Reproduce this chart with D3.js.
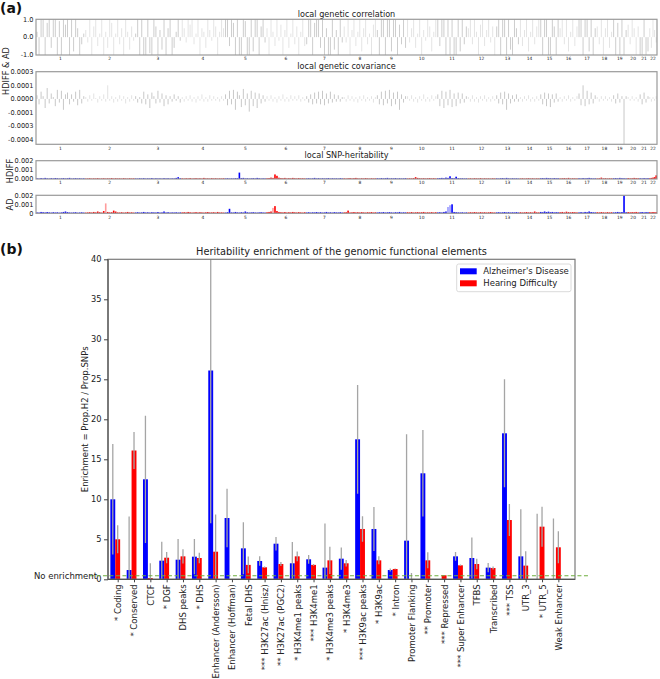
<!DOCTYPE html>
<html><head><meta charset="utf-8">
<script src="https://cdn.jsdelivr.net/npm/d3@7"></script>
<style>body{margin:0;background:#fff} svg{display:block;font-family:"DejaVu Sans",sans-serif}</style>
</head><body><svg id="c" width="660" height="679"></svg>
<script>
// ---------------- Panel (a) data ----------------
const chromLabels = ["1","2","3","4","5","6","7","8","9","10","11","12","13","14","15","16","17","18","19","20","21","22"];
const chromSizes = [134,137,128,119,114,109,103,91,83,83,84,78,65,56,53,52,50,45,40,33,27,22];
// local genetic correlation, per chromosome
const corrValues = [
 [0.3,-1,1,1,-1,0.8,1,-0.6,1,1,-1,0.9,-1,1,0.7,1,-1,1,-0.8,1,0.5,-1,-0.4,0.2],
 [0.4,-0.3,1,-1,0.6,1,-0.5,0.2,1,-1,0.3,-0.6,1,0.8,-1,0.2,1,-0.4,0.5,-1,1,0.3,-0.7,0.6,-0.2],
 [0.2,1,-1,1,-1,-1,1,-0.9,-1,1,0.6,-1,0.4,-0.7,1,-1,0.5,1,-1,-0.6,0.3,1,-0.2],
 [1,0.5,-0.3,1,0.7,1,-0.4,0.2,1,-1,0.5,0.3,-0.6,1,0.4,-0.2,1,0.6,-1,0.3,1,0.5],
 [1,1,-0.5,1,0.8,-1,1,-1,-1,1,0.9,-1,-1,1,-0.8,1,1,-1,0.6,1,-0.3],
 [0.5,-1,1,0.3,-0.5,1,-0.2,0.7,-1,0.4,1,-0.6,0.2,1,-0.4,0.6,-1,0.3,1,-0.5],
 [-0.4,1,1,-1,0.8,1,1,-0.6,1,-1,0.5,-1,-1,1,-0.7,0.4,-1,1,-0.3],
 [0.6,-0.3,1,-1,0.4,1,-0.5,0.3,1,-0.8,0.5,1,-0.4,0.2,-1,0.7,1],
 [0.4,-1,1,1,-1,1,1,-0.8,1,1,-1,0.7,-0.4,1,-0.6],
 [1,-0.3,0.5,1,-0.6,0.2,1,-1,0.4,-0.2,1,0.6,-0.8,0.3,1],
 [1,-0.5,1,1,-1,1,-1,1,-1,-1,1,-0.8,1,-0.4,0.6],
 [0.5,1,-0.4,1,0.3,-1,0.7,1,-0.5,0.4,1,-0.3,0.6,-1],
 [0.6,1,-1,1,1,-1,1,-0.7,-1,1,0.5,-0.4],
 [1,-0.5,0.4,1,-0.8,0.3,1,-0.4,0.6,1],
 [1,-1,1,1,-1,-1,1,0.6,-1,1],
 [0.5,1,-0.4,1,-0.8,0.3,1,-0.5,0.6],
 [1,1,-1,1,1,-0.8,1,-1,0.5],
 [0.6,-0.4,1,-1,0.5,1,-0.6,0.3],
 [1,-1,0.8,-1,1,-1,0.4],
 [0.7,-0.4,1,0.5,-1,0.6],
 [-1,-1,1,-1,-0.8],
 [0.5,-0.6,1,0.4,-0.3]
];
// local genetic covariance, in units of 1e-5
const covValues = [
 [4,-6,8,3,-10,12,-5,6,2,-8,10,-4,9,-12,5,7,-6,5,-3,8,-7,10,-5,3],
 [2,-3,4,-2,6,1,-4,3,-2,5,-3,15,-2,3,-4,2,-3,4,-2,3,-5,2,-3,4,-2],
 [3,-4,2,-5,8,-6,5,-10,7,3,-5,9,-4,6,-8,4,-6,3,-3,5,-2,3,-4],
 [2,-3,3,-2,4,-3,2,-4,3,-2,5,-3,2,-3,4,-2,3,-2,2,-3,3,-2],
 [5,-7,9,-6,10,-12,8,4,-9,11,-7,6,-14,9,-8,7,-10,6,-5,4,-3],
 [3,-2,4,-3,2,-4,3,-2,5,-3,2,-3,4,-2,3,-2,4,-3,2,-2],
 [3,-4,5,-6,7,-5,8,-6,9,-7,6,-5,8,-4,5,-3,4,-3,2],
 [2,-3,4,-2,3,-3,2,-4,3,-2,4,-3,2,-2,3,-4,2],
 [4,-6,8,-7,9,-5,10,-8,7,-6,8,-12,5,-4,3],
 [3,-2,4,-3,2,-4,3,-2,5,-3,2,-3,4,-2,3],
 [5,-8,9,-10,8,-7,10,-9,6,-8,7,-5,6,-4,3],
 [2,-3,4,-3,2,-4,3,-2,4,-3,2,-3,3,-2],
 [4,-5,7,-6,8,-12,6,-5,4,-3,5,-3],
 [2,-3,3,-2,4,-3,2,-3,3,-2],
 [5,-6,7,-8,6,-9,5,-4,6,-3],
 [2,-3,3,-2,4,-3,2,-2,3],
 [6,-7,15,-8,9,-6,7,-5,4],
 [2,-3,3,-2,3,-2,2,-3],
 [4,-5,6,-4,3,-50,3],
 [2,-2,3,-2,2,-3],
 [5,-6,7,-4,3],
 [2,-3,2,-2,3]
];
// local SNP-heritability HDIFF, in units of 1e-5
const hdiffH2 = [
 [8,5,10,6,12,7,5,9,6,11,8,5,7,10,6,8,12,5,7,9,6,8,5,7],
 [5,6,8,5,7,6,9,5,6,8,5,7,6,10,5,8,6,7,5,9,6,5,8,6,7],
 [6,5,8,6,9,5,7,6,10,5,8,6,7,5,9,6,8,5,7,6,12,20,8],
 [7,5,8,6,10,5,7,9,6,8,5,12,6,7,5,9,6,8,5,7,6,8],
 [6,8,5,7,6,9,8,70,10,12,6,8,5,7,9,6,12,8,5,7,6],
 [8,10,15,12,50,35,14,10,8,12,6,9,7,12,8,6,10,7,8,6],
 [6,8,5,7,12,6,9,5,8,6,7,10,5,8,6,7,5,9,6],
 [7,5,8,10,6,9,12,7,5,8,6,10,7,5,8,6,7],
 [8,6,10,7,9,12,6,8,7,10,5,8,6,7,9],
 [6,8,7,10,20,12,8,7,9,6,8,10,7,9,6],
 [8,10,12,9,15,12,30,10,8,25,9,7,8,6,7],
 [6,8,5,9,7,6,10,5,8,6,7,5,8,6],
 [7,5,8,10,6,12,7,5,8,6,7,5],
 [6,8,5,7,9,6,8,5,7,6],
 [8,10,7,12,9,8,6,10,7,8],
 [6,8,10,7,12,6,8,7,6],
 [8,6,10,7,9,12,8,6,7],
 [6,8,15,7,9,6,8,7],
 [8,10,7,12,9,8,6],
 [10,7,8,12,9,8],
 [8,6,10,7,9],
 [8,12,15,20,40]
];
// local SNP-heritability AD, in units of 1e-5
const adH2 = [
 [10,8,15,12,9,14,10,8,12,9,11,7,10,15,20,13,9,8,10,12,7,9,11,8],
 [8,10,12,9,15,10,20,12,8,25,110,15,10,12,30,20,10,9,12,8,10,15,9,11,8],
 [9,12,8,10,15,9,11,8,12,10,9,14,8,10,20,9,12,8,10,9,11,8,10],
 [10,12,9,15,11,8,10,13,9,12,10,8,11,14,9,10,12,8,15,9,10,8],
 [8,12,50,10,9,15,10,8,12,9,20,11,8,10,12,9,8,10,12,9,8],
 [12,15,20,60,80,25,15,12,10,14,9,12,10,15,11,9,13,10,8,12],
 [9,12,8,11,10,14,9,12,8,10,15,9,11,8,13,10,9,12,8],
 [10,12,30,9,11,14,10,12,9,13,10,8,12,10,14,9,11],
 [9,12,10,14,9,11,13,10,8,12,10,15,9,11,10],
 [12,10,14,9,11,13,10,12,15,9,11,10,13,9,12],
 [10,12,9,15,20,70,90,100,15,12,10,9,11,8,10],
 [9,12,10,14,11,9,13,10,12,9,11,14,10,9],
 [10,12,9,11,14,10,12,9,11,10,13,9],
 [12,9,11,14,10,12,9,20,11,10],
 [15,12,20,14,18,12,15,10,12,11],
 [12,15,10,18,13,11,14,12,10],
 [10,13,9,15,12,20,14,11,10],
 [12,10,14,11,9,13,10,12],
 [10,12,15,11,14,200,12],
 [14,11,13,12,15,10],
 [11,14,10,13,12],
 [12,10,14,11,13]
];
const adLightBars = [[2,10],[6,3],[11,5],[11,6]]; // [chromosome, block] drawn pale
const UNIT = 1e-5;
const corrTicks = [1,0,-1], corrTickLabels = ["1.0","0.0","-1.0"];
const covTicks = [0.0003,0.00015,0,-0.00015,-0.0003,-0.00045];
const covTickLabels = ["0.0003","0.0001","0.0000","-0.0001","-0.0003","-0.0004"];
const h2Ticks = [0.002,0.001,0];
const hdiffTickLabels = ["0.002","0.001","0.000"];
const adTickLabels = ["0.002","0.001","0"];

// ---------------- Panel (b) data ----------------
const categories = ["* Coding","* Conserved","CTCF","* DGF","DHS peaks","* DHS","Enhancer (Andersson)","Enhancer (Hoffman)","Fetal DHS","*** H3K27ac (Hnisz)","** H3K27ac (PGC2)","* H3K4me1 peaks","*** H3K4me1","* H3K4me3 peaks","* H3K4me3","*** H3K9ac peaks","* H3K9ac","* Intron","Promoter Flanking","** Promoter","*** Repressed","*** Super Enhancer","TFBS","Transcribed","*** TSS","UTR_3","* UTR_5","Weak Enhancer"];
const adEnrich  = [10.0,1.16,12.5,2.33,2.45,2.83,26.1,7.66,3.87,2.29,4.45,2.0,2.5,1.46,2.58,17.5,6.29,1.16,4.83,13.25,0,2.87,2.66,1.46,18.25,2.87,0,0];
const adErr     = [6.9,6.7,7.95,2.37,2.6,2.2,19.1,3.65,3.25,0.6,0.85,2.66,0.55,5.5,1.4,6.8,2.75,0.2,13.3,5.4,0,0.55,2.55,0.58,6.75,5.9,8.2,7.6];
const hdEnrich  = [5.0,16.1,0.15,2.7,2.87,2.66,3.45,0,1.8,1.5,1.91,2.87,1.8,2.37,2.0,6.29,2.37,1.29,0,2.37,0.5,1.75,1.91,1.41,7.41,1.71,6.58,4.0];
const hdErr     = [1.75,2.3,1.85,0.7,0.9,0.65,4.65,0,1.05,0.1,0.25,0.6,0.1,1.7,0.4,1.6,0.5,0.05,0.8,1.0,0,0.1,0.65,0.2,2.0,1.8,2.5,2.0];
const seriesNames = ["Alzheimer's Disease","Hearing Difficulty"];
const seriesColors = ["#0000ff","#ff0000"];
const yTicksB = [0,5,10,15,20,25,30,35,40];
const noEnrichmentLevel = 0.45;

// ---------------- Drawing ----------------
const svg = d3.select("#c");
const TXT = "#222";

svg.append("text").attr("x",0).attr("y",13).attr("font-size",14).attr("font-weight","bold").attr("fill","#111").text("(a)");
svg.append("text").attr("x",0).attr("y",254).attr("font-size",14).attr("font-weight","bold").attr("fill","#111").text("(b)");

const total = d3.sum(chromSizes);
const starts = chromSizes.map((s,i)=>d3.sum(chromSizes.slice(0,i)));
const xa = d3.scaleLinear().domain([0,total]).range([36,657]);
function blocks(arr){
  const out=[];
  arr.forEach((vals,c)=>vals.forEach((v,j)=>out.push({c, j, v, pos: starts[c] + (j+0.5)/vals.length*chromSizes[c]})));
  return out;
}

function track(top,bottom,domain,ticks,labels,title){
  const y = d3.scaleLinear().domain(domain).range([bottom,top]);
  const g = svg.append("g");
  if(title) g.append("text").attr("x",(36+657)/2).attr("y",top-2.5).attr("text-anchor","middle").attr("font-size",8.1).attr("fill",TXT).text(title);
  ticks.forEach((t,i)=>{
    g.append("text").attr("x",33.5).attr("y",y(t)).attr("dy","0.35em").attr("text-anchor","end").attr("font-size",6.6).attr("fill",TXT).text(labels[i]);
  });
  chromLabels.forEach((lab,c)=>{
    g.append("text").attr("x",xa(starts[c]+chromSizes[c]/2)).attr("y",bottom+5.4).attr("text-anchor","middle").attr("font-size",4.4).attr("fill",TXT).text(lab);
  });
  return {y,g,top,bottom};
}

const tCorr = track(19.3,55,[-1,1],corrTicks,corrTickLabels,"local genetic correlation");
tCorr.g.selectAll("line.d").data(blocks(corrValues)).join("line")
  .attr("x1",d=>xa(d.pos)).attr("x2",d=>xa(d.pos))
  .attr("y1",tCorr.y(0)).attr("y2",d=>tCorr.y(d.v))
  .attr("stroke",d=>d.c%2===0?"#cdcdcd":"#e4e4e4").attr("stroke-width",1);
const tCov = track(71.7,144.3,[-0.0005,0.0003],covTicks,covTickLabels,"local genetic covariance");
tCov.g.selectAll("line.d").data(blocks(covValues)).join("line")
  .attr("x1",d=>xa(d.pos)).attr("x2",d=>xa(d.pos))
  .attr("y1",tCov.y(0)).attr("y2",d=>tCov.y(d.v*UNIT))
  .attr("stroke",d=>d.c%2===0?"#c8c8c8":"#e2e2e2").attr("stroke-width",1);
const tHd = track(160.7,179,[0,0.002],h2Ticks,hdiffTickLabels,"local SNP-heritability");
tHd.g.selectAll("rect.d").data(blocks(hdiffH2)).join("rect")
  .attr("x",d=>xa(d.pos)-0.8).attr("width",1.6)
  .attr("y",d=>tHd.y(d.v*UNIT)).attr("height",d=>tHd.y(0)-tHd.y(d.v*UNIT))
  .attr("fill",d=>d.c%2===0?"#0000ff":"#ff0000");
const tAd = track(195.3,213.3,[0,0.002],h2Ticks,adTickLabels,null);
const isLight = d => adLightBars.some(p=>p[0]===d.c+1 && p[1]===d.j);
tAd.g.selectAll("rect.d").data(blocks(adH2)).join("rect")
  .attr("x",d=>xa(d.pos)-0.8).attr("width",1.6)
  .attr("y",d=>tAd.y(d.v*UNIT)).attr("height",d=>tAd.y(0)-tAd.y(d.v*UNIT))
  .attr("fill",d=>d.c%2===0?(isLight(d)?"#9a9aff":"#0000ff"):(isLight(d)?"#ff9c9c":"#ff0000"));
[tCorr,tCov,tHd,tAd].forEach(t=>{
  svg.append("rect").attr("x",36).attr("y",t.top).attr("width",621).attr("height",t.bottom-t.top)
    .attr("fill","none").attr("stroke","#9a9a9a").attr("stroke-width",1.2);
});
svg.append("text").attr("transform","translate(6,71) rotate(-90)").attr("text-anchor","middle").attr("dominant-baseline","central").attr("font-size",8.2).attr("fill",TXT).text("HDIFF & AD");
svg.append("text").attr("transform","translate(9.5,171) rotate(-90)").attr("text-anchor","middle").attr("dominant-baseline","central").attr("font-size",8.2).attr("fill",TXT).text("HDIFF");
svg.append("text").attr("transform","translate(9.5,204.5) rotate(-90)").attr("text-anchor","middle").attr("dominant-baseline","central").attr("font-size",8.2).attr("fill",TXT).text("AD");

// ---------------- Panel (b) ----------------
const L=108,R=575,T=259.3,B=579.3;
const xb = d3.scaleLinear().domain([-0.594,28.02]).range([L,R]);
const yb = d3.scaleLinear().domain([0,40]).range([B,T]);
const barW = 0.3;
svg.append("text").attr("x",(L+R)/2).attr("y",254.5).attr("text-anchor","middle").attr("font-size",9.8).attr("fill",TXT).text("Heritability enrichment of the genomic functional elements");
svg.append("defs").append("clipPath").attr("id","clipb").append("rect").attr("x",L).attr("y",T).attr("width",R-L).attr("height",B-T);
const gb = svg.append("g").attr("clip-path","url(#clipb)");
const series = [
  {vals:adEnrich, errs:adErr, off:-barW, color:seriesColors[0]},
  {vals:hdEnrich, errs:hdErr, off:0, color:seriesColors[1]}
];
series.forEach(s=>{
  gb.selectAll(null).data(categories.map((c,i)=>({i,v:s.vals[i]}))).join("rect")
    .attr("x",d=>xb(d.i+s.off-barW/2)).attr("width",xb(barW)-xb(0))
    .attr("y",d=>yb(d.v)).attr("height",d=>yb(0)-yb(d.v))
    .attr("fill",s.color);
});
series.forEach(s=>{
  gb.selectAll(null).data(categories.map((c,i)=>({i,v:s.vals[i],e:s.errs[i]})).filter(d=>d.e>0)).join("line")
    .attr("x1",d=>xb(d.i+s.off)).attr("x2",d=>xb(d.i+s.off))
    .attr("y1",d=>yb(d.v-d.e)).attr("y2",d=>yb(d.v+d.e))
    .attr("stroke","#a5a5a5").attr("stroke-width",1.3);
});
svg.append("rect").attr("x",L).attr("y",T).attr("width",R-L).attr("height",B-T).attr("fill","none").attr("stroke","#7a7a7a").attr("stroke-width",1.2);
svg.append("line").attr("x1",L).attr("x2",L).attr("y1",T).attr("y2",B).attr("stroke","#555").attr("stroke-width",1.2);
svg.append("line").attr("x1",L).attr("x2",R).attr("y1",B).attr("y2",B).attr("stroke","#555").attr("stroke-width",1.2);
const yAxis = d3.axisLeft(yb).tickValues(yTicksB).tickSize(4).tickPadding(2.5);
const gy = svg.append("g").attr("transform",`translate(${L},0)`).call(yAxis);
gy.select(".domain").remove();
gy.selectAll("text").attr("font-size",8.3).attr("fill",TXT).attr("font-family","DejaVu Sans");
gy.selectAll("line").attr("stroke","#444");
const xAxis = d3.axisBottom(xb).tickValues(categories.map((c,i)=>i)).tickFormat(i=>categories[i]).tickSize(3);
const gx = svg.append("g").attr("transform",`translate(0,${B})`).call(xAxis);
gx.select(".domain").remove();
gx.selectAll("line").attr("stroke","#444");
gx.selectAll("text").attr("font-size",8.5).attr("fill",TXT).attr("font-family","DejaVu Sans")
  .attr("transform","rotate(-90)").attr("text-anchor","end").attr("x",-5).attr("y",0).attr("dy","0.35em");
svg.append("text").attr("transform",`translate(85,${(T+B)/2}) rotate(-90)`).attr("text-anchor","middle").attr("dominant-baseline","central").attr("font-size",8.5).attr("fill",TXT).text("Enrichment = Prop.H2 / Prop.SNPs");
svg.append("line").attr("x1",xb(-1.7)).attr("x2",xb(28.9)).attr("y1",yb(noEnrichmentLevel)).attr("y2",yb(noEnrichmentLevel))
  .attr("stroke","#6fae3f").attr("stroke-width",1.1).attr("stroke-dasharray","4,2.5");
svg.append("text").attr("x",97).attr("y",yb(noEnrichmentLevel)).attr("dy","0.35em").attr("text-anchor","end").attr("font-size",8.5).attr("fill",TXT).text("No enrichment");
const lg = svg.append("g").attr("transform","translate(456.7,264)");
lg.append("rect").attr("width",114.3).attr("height",27.7).attr("rx",2).attr("fill","#fff").attr("stroke","#d0d0d0").attr("stroke-width",0.8);
seriesNames.forEach((n,i)=>{
  lg.append("rect").attr("x",3.3).attr("y",4.3+12*i).attr("width",16.7).attr("height",6).attr("fill",seriesColors[i]);
  lg.append("text").attr("x",26.6).attr("y",7.3+12*i).attr("dy","0.35em").attr("font-size",8.5).attr("fill",TXT).text(n);
});
</script></body></html>
